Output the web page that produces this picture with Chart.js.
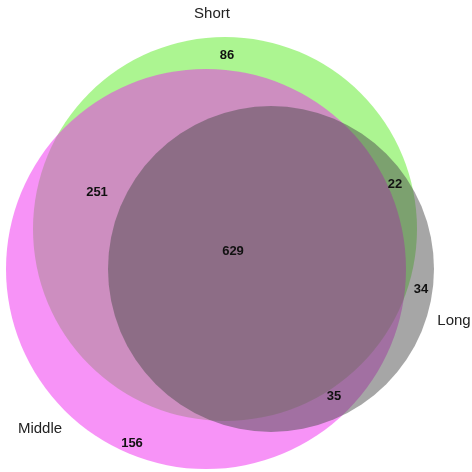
<!DOCTYPE html>
<html>
<head>
<meta charset="utf-8">
<script src="https://cdn.jsdelivr.net/npm/chart.js@4"></script>
<style>
html,body{margin:0;padding:0;background:#fff;}
canvas{display:block;}
</style>
</head>
<body>
<canvas id="c" width="472" height="472"></canvas>
<script>
// Set names
const setNames = ["Long", "Middle", "Short"];
// Circle geometry in the diagram's coordinate space (x, y, radius)
const longCircle = [{x: 271, y: 269, r: 163}];
const middleCircle = [{x: 206, y: 269, r: 200}];
const shortCircle = [{x: 225, y: 229, r: 192}];
// Region counts and their anchor points
const regionCounts = ["86", "251", "22", "629", "34", "35", "156"];
const regionX = [227, 97, 395, 233, 421, 334, 132];
const regionY = [55, 192, 184, 251, 289, 396, 443];
// Set name label anchors
const setLabelX = [454, 40, 212];
const setLabelY = [321, 429, 14];

const colors = ["rgba(78,78,78,0.5)", "rgba(240,40,240,0.5)", "rgba(90,235,35,0.5)"];

const labelPlugin = {
  id: 'vennLabels',
  afterDatasetsDraw(chart) {
    const ctx = chart.ctx;
    const xs = chart.scales.x, ys = chart.scales.y;
    ctx.save();
    ctx.textAlign = 'center';
    ctx.textBaseline = 'middle';
    ctx.fillStyle = '#111';
    ctx.font = 'bold 13px "Liberation Sans", Arial, sans-serif';
    regionCounts.forEach((t, i) => {
      ctx.fillText(t, xs.getPixelForValue(regionX[i]), ys.getPixelForValue(regionY[i]));
    });
    ctx.font = '15px "Liberation Sans", Arial, sans-serif';
    ctx.fillStyle = '#222';
    setNames.forEach((t, i) => {
      ctx.fillText(t, xs.getPixelForValue(setLabelX[i]), ys.getPixelForValue(setLabelY[i]));
    });
    ctx.restore();
  }
};

new Chart(document.getElementById('c'), {
  type: 'bubble',
  data: {
    datasets: [
      {label: setNames[0], data: longCircle, backgroundColor: colors[0], borderWidth: 0, hoverBorderWidth: 0, clip: false},
      {label: setNames[1], data: middleCircle, backgroundColor: colors[1], borderWidth: 0, hoverBorderWidth: 0, clip: false},
      {label: setNames[2], data: shortCircle, backgroundColor: colors[2], borderWidth: 0, hoverBorderWidth: 0, clip: false}
    ]
  },
  options: {
    responsive: false,
    animation: false,
    events: [],
    layout: {padding: 0, autoPadding: false},
    plugins: {legend: {display: false}, tooltip: {enabled: false}},
    scales: {
      x: {type: 'linear', min: 0, max: 472, display: false},
      y: {type: 'linear', min: 0, max: 472, reverse: true, display: false}
    }
  },
  plugins: [labelPlugin]
});
</script>
</body>
</html>
